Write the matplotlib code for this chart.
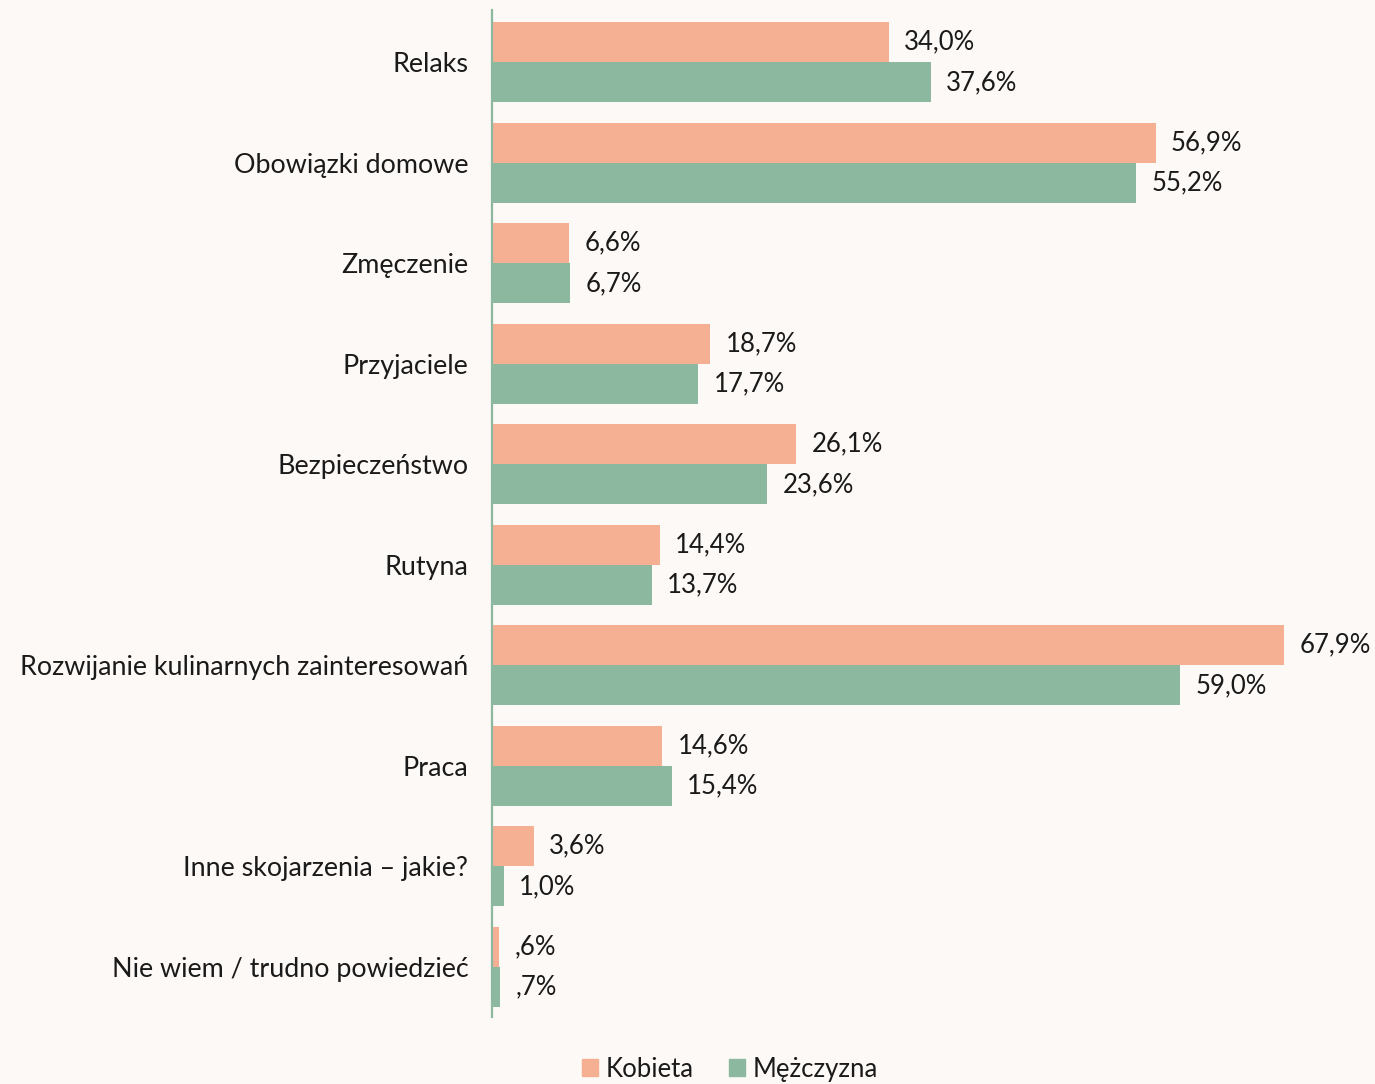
import matplotlib
matplotlib.use("Agg")
import matplotlib.pyplot as plt
from matplotlib.patches import Patch
import numpy as np

# ── Data ─────────────────────────────────────────────────────────────────────
CATEGORIES = [
    "Relaks",
    "Obowiązki domowe",
    "Zmęczenie",
    "Przyjaciele",
    "Bezpieczeństwo",
    "Rutyna",
    "Rozwijanie kulinarnych zainteresowań",
    "Praca",
    "Inne skojarzenia – jakie?",
    "Nie wiem / trudno powiedzieć",
]
KOBIETA = [34.0, 56.9, 6.6, 18.7, 26.1, 14.4, 67.9, 14.6, 3.6, 0.6]
MEZCZYZNA = [37.6, 55.2, 6.7, 17.7, 23.6, 13.7, 59.0, 15.4, 1.0, 0.7]
SERIES = ["Kobieta", "Mężczyzna"]

# ── Style ────────────────────────────────────────────────────────────────────
BG = "#FDF9F6"
C_K = "#F5B094"
C_M = "#8DB8A0"
TXT = "#1a1a1a"
FS = 18.5
plt.rcParams["font.family"] = ["Lato", "DejaVu Sans"]

def fmt(v):
    s = f"{v:.1f}".replace(".", ",")
    if s.startswith("0"):
        s = s[1:]
    return s + "%"

fig = plt.figure(figsize=(13.75, 10.84), dpi=100, facecolor=BG)
ax = fig.add_axes([0.3578, 0.0618, 0.6422, 0.929])
ax.set_facecolor(BG)

y = np.arange(len(CATEGORIES))
h = 0.4
ax.barh(y - h / 2, KOBIETA, height=h, color=C_K)
ax.barh(y + h / 2, MEZCZYZNA, height=h, color=C_M)

for yi, v in zip(y - h / 2, KOBIETA):
    ax.annotate(fmt(v), (v, yi), xytext=(11, 0), textcoords="offset points",
                va="center", ha="left", fontsize=FS, color=TXT)
for yi, v in zip(y + h / 2, MEZCZYZNA):
    ax.annotate(fmt(v), (v, yi), xytext=(11, 0), textcoords="offset points",
                va="center", ha="left", fontsize=FS, color=TXT)

ax.set_xlim(0, 75.7)
ax.set_ylim(9.5, -0.52)
ax.set_yticks(y)
ax.set_yticklabels(CATEGORIES, fontsize=19.4, color=TXT)
for lab in ax.get_yticklabels():
    lab.set_verticalalignment("center_baseline")
ax.tick_params(axis="y", length=0, pad=17)
ax.set_xticks([])
for s in ["top", "right", "bottom"]:
    ax.spines[s].set_visible(False)
ax.spines["left"].set_color(C_M)
ax.spines["left"].set_linewidth(1.6)

handles = [Patch(color=C_K, label=SERIES[0]), Patch(color=C_M, label=SERIES[1])]
fig.legend(handles=handles, loc="center", bbox_to_anchor=(0.531, 0.0138),
           ncol=2, frameon=False, fontsize=FS, handlelength=0.6,
           handleheight=0.6, handletextpad=0.3, columnspacing=1.4,
           labelcolor=TXT)

fig.savefig("out.png", dpi=100, facecolor=BG)
